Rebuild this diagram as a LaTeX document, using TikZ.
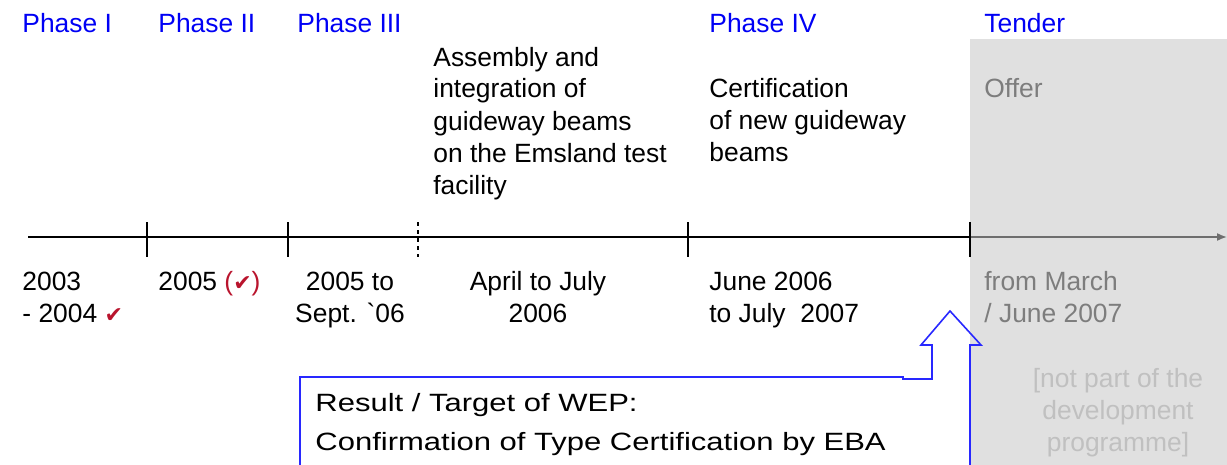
\documentclass[tikz,border=0pt]{standalone}
\usepackage{fontspec}
\setmainfont{Liberation Sans}
\newfontfamily\symfont{DejaVu Sans}
\newfontfamily\calloutfont[FakeStretch=1.24]{Liberation Sans}
\usetikzlibrary{positioning,arrows.meta}

\definecolor{phaseblue}{RGB}{0,0,245}
\definecolor{calloutblue}{RGB}{40,40,255}
\definecolor{checkred}{RGB}{185,20,45}
\definecolor{tendergray}{RGB}{224,224,224}
\definecolor{axisgray}{RGB}{110,110,110}
\definecolor{textgray}{RGB}{125,125,125}
\definecolor{notegray}{RGB}{192,192,192}

\newcommand{\donemark}{{\symfont\fontsize{11}{16}\selectfont\color{checkred}✔}}

\begin{document}
\begin{tikzpicture}[x=0.5pt, y=-0.5pt,
	every node/.style={inner sep=0pt, font=\fontsize{13.2}{16}\selectfont},
	phase/.style={anchor=base west, text=phaseblue},
	lbl/.style={anchor=base west, align=left},
	datelbl/.style={anchor=base, align=center}]

\useasboundingbox (0, 0) rectangle (1227, 465);

%tender area
\fill[tendergray] (970, 39) rectangle (1227, 465);

%time axis
\coordinate (t0) at (28, 237);
\coordinate (tend) at (970, 237);
\coordinate (tarrow) at (1227, 237);
\draw[line width=0.8pt] (t0) -- (tend);
\draw[-{Latex[length=5pt, width=4pt]}, axisgray, line width=0.8pt] (tend) -- (tarrow);
\foreach \x in {147, 288, 688, 970}
	\draw[line width=0.8pt] (\x, 222) -- (\x, 257);
\draw[line width=0.8pt, dash pattern=on 2pt off 2pt] (418, 222) -- (418, 257);

%phases
\node[phase] (ph1) at (22, 33) {Phase I};
\node[phase] (ph2) at (158, 33) {Phase II};
\node[phase] (ph3) at (297, 33) {Phase III};
\node[phase] (ph4) at (709, 33) {Phase IV};
\node[phase] (tender) at (984, 33) {Tender};

%activities (base = last line)
\node[lbl] (assembly) at (433, 194) {Assembly and\\integration of\\guideway beams\\on the Emsland test\\facility};
\node[lbl] (cert) at (709, 162) {Certification\\of new guideway\\beams};
\node[lbl, text=textgray] (offer) at (984, 98) {Offer};

%dates
\node[lbl] (d1) at (22, 322) {2003\\- 2004 \donemark};
\node[lbl] (d2) at (158, 290) {2005 {\color{checkred}(\donemark)}};
\node[datelbl] (d3) at (350, 322) {2005 to\\Sept. \textasciigrave06};
\node[datelbl] (d4) at (538, 322) {April to July\\2006};
\node[lbl] (d5) at (709, 322) {June 2006\\to July\ \ 2007};
\node[lbl, text=textgray] (d6) at (984, 322) {from March\\/ June 2007};
\node[datelbl, text=notegray] (note) at (1118, 451) {[not part of the\\development\\programme]};

%result
\draw[calloutblue, line width=0.8pt] (300, 465) -- (300, 377) -- (903, 377) -- (903, 379)
	-- (932, 379) -- (932, 345) -- (921, 345) -- (950, 311) -- (981, 345) -- (970, 345) -- (970, 465);
\node[lbl, font=\calloutfont\fontsize{12.5}{19.5}\selectfont] (result) at (315, 450)
	{Result / Target of WEP:\\Confirmation of Type Certification by EBA};

\end{tikzpicture}
\end{document}
